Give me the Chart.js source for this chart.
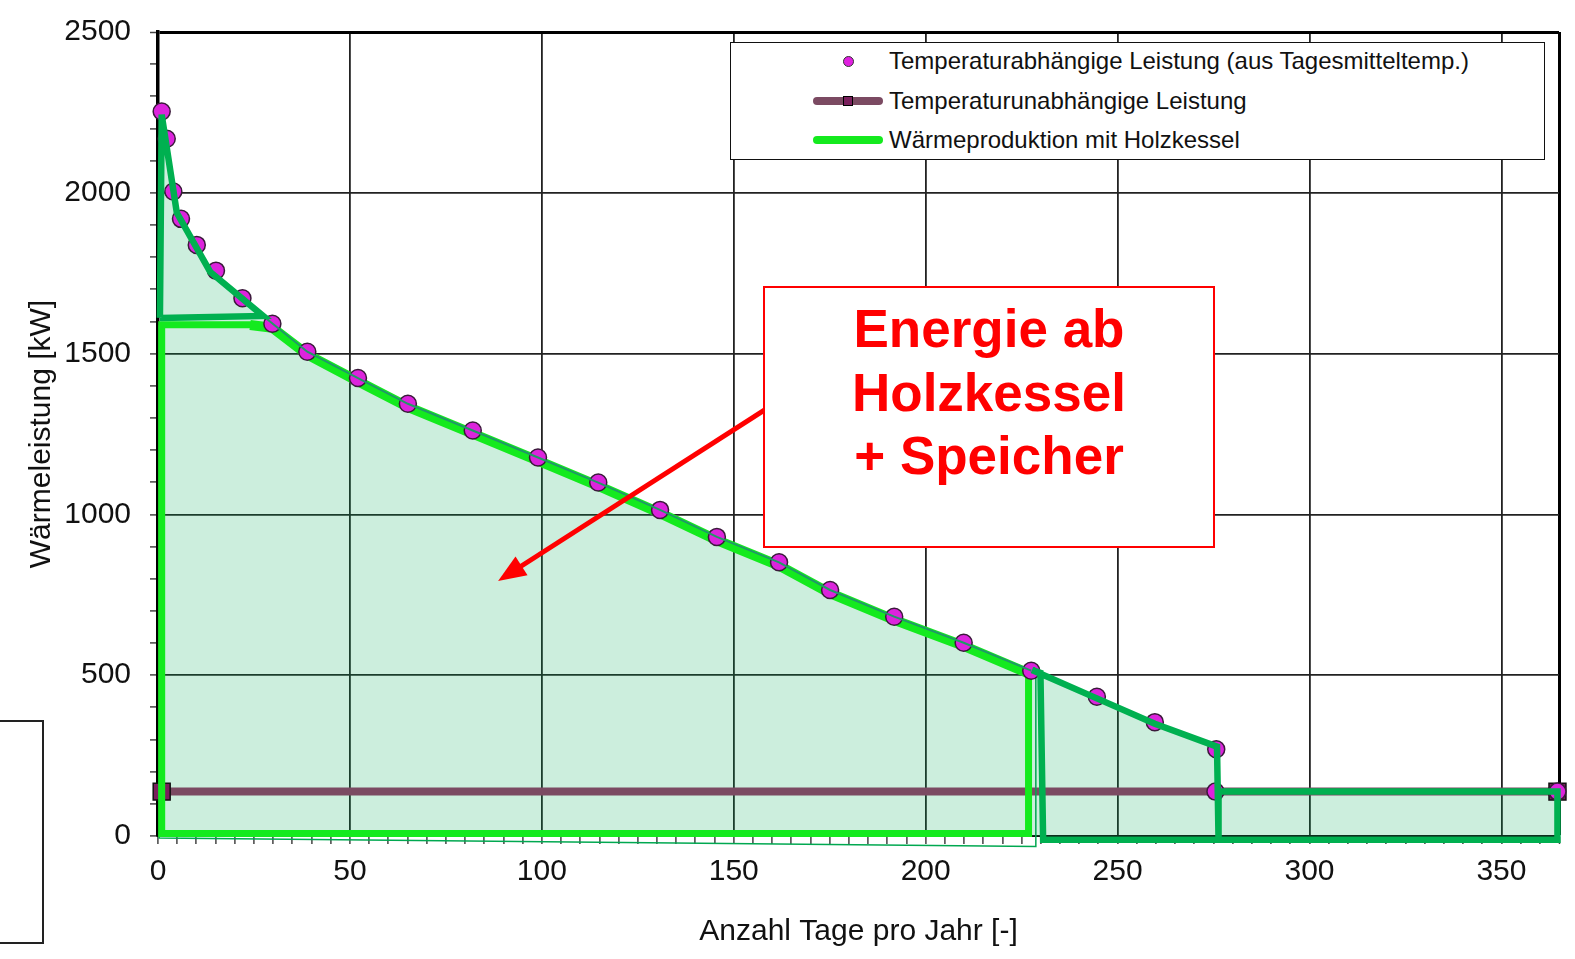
<!DOCTYPE html>
<html>
<head>
<meta charset="utf-8">
<script src="https://cdn.jsdelivr.net/npm/chart.js@4"></script>
<style>
    body { margin: 0; background: #fff; font-family: "Liberation Sans", Arial, sans-serif; }
    #wrap { position: relative; width: 1575px; height: 959px; overflow: hidden; }
    #chart { position: absolute; left: 0; top: 0; }
    .legend { position: absolute; left: 730px; top: 42px; width: 813px; height: 116px; border: 1.5px solid #111; background: #fff; }
    .legend .row { position: absolute; left: 0; width: 100%; height: 30px; }
    .legend .mark { position: absolute; left: 82px; top: 0; width: 70px; height: 30px; }
    .legend .txt { position: absolute; left: 158px; top: 0; line-height: 30px; font-size: 24px; color: #111; white-space: nowrap; }
    .dot { position: absolute; left: 30px; top: 10px; width: 9px; height: 9px; border-radius: 50%; background: #e020e0; border: 1px solid #333; }
    .bar { position: absolute; left: 0; top: 11px; width: 70px; height: 8px; border-radius: 4px; }
    .sq { position: absolute; left: 30px; top: 10px; width: 8px; height: 8px; background: #7a1f5c; border: 1.5px solid #000; }
    .note { position: absolute; left: 763px; top: 286px; width: 448px; height: 249px; border: 2.5px solid #ff0000; background: #fff;
            color: #ff0000; font-weight: bold; font-size: 53px; line-height: 63.5px; text-align: center; padding-top: 9px; }
    .stray { position: absolute; left: -3px; top: 720px; width: 43px; height: 220px; border: 2px solid #222; }
</style>
</head>
<body>
<div id="wrap">
    <canvas id="chart" width="1575" height="959"></canvas>
    <div class="legend">
        <div class="row" style="top: 3px"><div class="mark"><span class="dot"></span></div><div class="txt">Temperaturabhängige Leistung (aus Tagesmitteltemp.)</div></div>
        <div class="row" style="top: 43px"><div class="mark"><span class="bar" style="background:#7b4a62"></span><span class="sq"></span></div><div class="txt">Temperaturunabhängige Leistung</div></div>
        <div class="row" style="top: 82px"><div class="mark"><span class="bar" style="background:#14ea1e"></span></div><div class="txt">Wärmeproduktion mit Holzkessel</div></div>
    </div>
    <div class="note">Energie ab<br>Holzkessel<br>+ Speicher</div>
    <div class="stray"></div>
</div>
<script>
// temperaturabhängige Leistung (Tagesmittel), sortiert
const tempDays = [0.96, 2.27, 3.99, 5.99, 10.1, 15.1, 22.0, 29.8, 38.9, 52.1, 65.1, 82.0, 99.0, 114.7, 130.8, 145.6, 161.8, 175.1, 191.8, 209.9, 227.5, 244.6, 259.7, 275.7, 275.5, 364.6];
const tempKW = [2253, 2168, 2004, 1919, 1838, 1758, 1672, 1593, 1506, 1424, 1344, 1261, 1177, 1099, 1014, 930, 851, 765, 682, 601, 514, 433, 354, 270, 138, 138];

// temperaturunabhängige Leistung
const baseDays = [0.96, 364.6];
const baseKW = [138, 138];

// Wärmeproduktion mit Holzkessel (hellgrün): Band entlang der Kurve
const woodBandDays = [24.0, 29.8, 38.9, 52.1, 65.1, 82.0, 99.0, 114.7, 130.8, 145.6, 161.8, 175.1, 191.8, 209.9, 226.8];
const woodBandKW = [1589, 1580, 1497, 1414, 1334, 1251, 1167, 1089, 1004, 920, 841, 755, 672, 591, 506];

// Wärmeproduktion mit Holzkessel: Rahmen links und unten
const woodFrameDays = [226.8, 226.8, 0.96, 0.96, 26.0];
const woodFrameKW = [510, 8, 8, 1590, 1590];

// dünne Umrandung darunter
const outlineDays = [0.3, 0.3, 228.7, 228.7];
const outlineKW = [1588, -6, -33, 508];

// Speicher-Spitze oben links
const peakDays = [0.5, 0.96, 4.9, 13.6, 27.4, 0.5];
const peakKW = [1611, 2243, 1938, 1754, 1617, 1611];

// dunkelgrüne Linie entlang der Kurve
const curveDays = [27.4, 38.9, 52.1, 65.1, 82.0, 99.0, 114.7, 130.8, 145.6, 161.8, 175.1, 191.8, 209.9, 227.5];
const curveKW = [1617, 1506, 1424, 1344, 1261, 1177, 1099, 1014, 930, 851, 765, 682, 601, 514];

// dunkelgrüner Bereich rechts
const tailDays = [227.7, 229.9, 230.6, 364.6, 364.6, 276.3, 276.3, 275.9, 259.7, 244.6, 227.7];
const tailKW = [516, 507, -12, -12, 138, 138, -12, 278, 349, 428, 516];

// gefüllte Fläche
const areaDays = [0.5, 0.96, 4.9, 13.6, 27.4, 29.8, 38.9, 52.1, 65.1, 82.0, 99.0, 114.7, 130.8, 145.6, 161.8, 175.1, 191.8, 209.9, 227.5, 244.6, 259.7, 275.9, 276.3, 364.6];
const areaKW = [0, 2243, 1938, 1754, 1617, 1593, 1506, 1424, 1344, 1261, 1177, 1099, 1014, 930, 851, 765, 682, 601, 514, 433, 354, 278, 138, 138];

// Pfeil der Beschriftung (Tage, kW)
const arrowFrom = [160, 1340];
const arrowTo = [88.6, 793];

function pts(xs, ys) {
    return xs.map((x, i) => ({ x: x, y: ys[i] }));
}

Chart.defaults.font.family = '"Liberation Sans", Arial, sans-serif';
Chart.defaults.color = '#111';

const arrowPlugin = {
    id: 'arrow',
    afterDatasetsDraw(chart) {
        const { ctx, scales: { x, y } } = chart;
        const x1 = x.getPixelForValue(arrowFrom[0]), y1 = y.getPixelForValue(arrowFrom[1]);
        const x2 = x.getPixelForValue(arrowTo[0]), y2 = y.getPixelForValue(arrowTo[1]);
        const ang = Math.atan2(y2 - y1, x2 - x1);
        const head = 30;
        ctx.save();
        ctx.strokeStyle = '#ff0000';
        ctx.fillStyle = '#ff0000';
        ctx.lineWidth = 5;
        ctx.beginPath();
        ctx.moveTo(x1, y1);
        ctx.lineTo(x2 - head * 0.8 * Math.cos(ang), y2 - head * 0.8 * Math.sin(ang));
        ctx.stroke();
        ctx.beginPath();
        ctx.moveTo(x2, y2);
        ctx.lineTo(x2 - head * Math.cos(ang - 0.38), y2 - head * Math.sin(ang - 0.38));
        ctx.lineTo(x2 - head * Math.cos(ang + 0.38), y2 - head * Math.sin(ang + 0.38));
        ctx.closePath();
        ctx.fill();
        ctx.restore();
    }
};

const plain = { pointRadius: 0, fill: false, clip: false, tension: 0 };

new Chart(document.getElementById('chart'), {
    type: 'line',
    data: {
        datasets: [
            Object.assign({}, plain, {
                label: 'Fläche', data: pts(areaDays, areaKW), fill: 'origin',
                backgroundColor: 'rgba(0,170,85,0.2)', borderWidth: 0, order: 6
            }),
            Object.assign({}, plain, {
                label: 'Temperaturunabhängige Leistung', data: pts(baseDays, baseKW),
                borderColor: '#7b4a62', borderWidth: 8, order: 5,
                pointRadius: 12, pointStyle: 'rect', pointBackgroundColor: '#7a1f5c',
                pointBorderColor: '#111', pointBorderWidth: 1.5
            }),
            Object.assign({}, plain, {
                label: 'Wärmeproduktion mit Holzkessel', data: pts(woodBandDays, woodBandKW),
                borderColor: '#14ea1e', borderWidth: 10, order: 4
            }),
            Object.assign({}, plain, {
                label: 'Holzkessel Rahmen', data: pts(woodFrameDays, woodFrameKW),
                borderColor: '#14ea1e', borderWidth: 7, order: 4
            }),
            Object.assign({}, plain, {
                label: 'Umrandung', data: pts(outlineDays, outlineKW),
                borderColor: '#00a850', borderWidth: 1.5, order: 4
            }),
            Object.assign({}, plain, {
                label: 'Temperaturabhängige Leistung (aus Tagesmitteltemp.)', data: pts(tempDays, tempKW),
                showLine: false, order: 3, pointRadius: 8.5,
                pointBackgroundColor: '#dc24dc', pointBorderColor: '#3a1a3a', pointBorderWidth: 1.5
            }),
            Object.assign({}, plain, {
                label: 'Kurve', data: pts(curveDays, curveKW),
                borderColor: '#1f9a66', borderWidth: 2, order: 2
            }),
            Object.assign({}, plain, {
                label: 'Speicher', data: pts(peakDays, peakKW),
                borderColor: '#00b050', borderWidth: 6.5, order: 1
            }),
            Object.assign({}, plain, {
                label: 'Rest', data: pts(tailDays, tailKW),
                borderColor: '#00b050', borderWidth: 6.5, order: 1
            })
        ]
    },
    options: {
        responsive: false,
        animation: false,
        events: [],
        layout: { padding: { left: 0, top: 32, right: 16, bottom: 0 } },
        plugins: { legend: { display: false }, tooltip: { enabled: false } },
        scales: {
            x: {
                type: 'linear', min: 0, max: 365,
                afterFit: s => { s.height = 123; s.paddingLeft = 0; s.paddingRight = 0; },
                ticks: {
                    stepSize: 5, autoSkip: false, maxRotation: 0, padding: 10,
                    font: { size: 30 }, color: '#111',
                    callback: v => (v % 50 === 0 ? v : '')
                },
                grid: {
                    color: c => (c.tick.value === 365 ? '#000' : (c.tick.value % 50 === 0 ? '#222' : 'rgba(0,0,0,0)')),
                    lineWidth: c => (c.tick.value === 365 ? 3 : 1.8),
                    tickLength: 8, tickColor: '#444', tickWidth: 1.5
                },
                border: { color: '#111', width: 2 },
                title: { display: true, text: 'Anzahl Tage pro Jahr [-]', font: { size: 30 }, color: '#111', padding: { top: 0, bottom: 9 } }
            },
            y: {
                min: 0, max: 2500,
                afterFit: s => { s.width = 158; s.paddingTop = 0; s.paddingBottom = 0; },
                ticks: {
                    stepSize: 100, autoSkip: false, padding: 19,
                    font: { size: 30 }, color: '#111',
                    callback: v => (v % 500 === 0 ? v : '')
                },
                grid: {
                    color: c => (c.tick.value === 2500 ? '#000' : (c.tick.value % 500 === 0 ? '#222' : 'rgba(0,0,0,0)')),
                    lineWidth: c => (c.tick.value === 2500 ? 3 : 1.8),
                    tickLength: 8, tickColor: '#444', tickWidth: 1.5
                },
                border: { color: '#000', width: 3.5 },
                title: { display: true, text: 'Wärmeleistung [kW]', font: { size: 30 }, color: '#111', padding: { top: 24, bottom: 0 } }
            }
        }
    },
    plugins: [arrowPlugin]
});
</script>
</body>
</html>
